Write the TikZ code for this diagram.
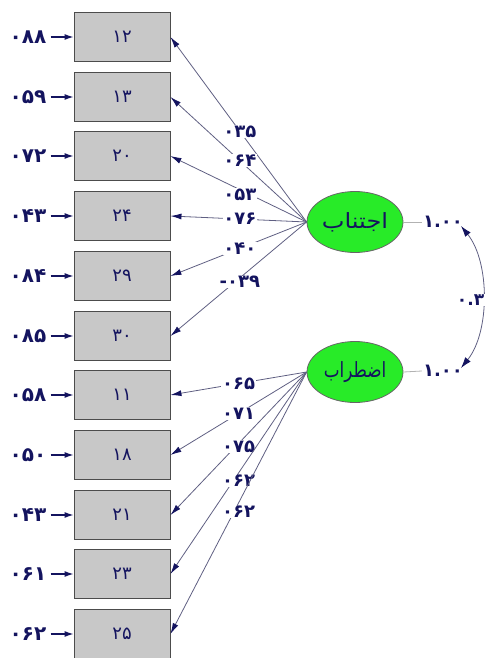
\documentclass[tikz,border=0pt]{standalone}
\usepackage{fontspec}
\usepackage{graphicx}
\newfontfamily\arabicfont[Script=Arabic]{DejaVu Sans}
\newfontfamily\arabicbold[Script=Arabic]{DejaVu Sans Bold}
\TeXXeTstate=1
\usetikzlibrary{arrows.meta,shapes.geometric}
\definecolor{navy}{RGB}{20,20,95}
\definecolor{linegray}{RGB}{95,95,130}
\definecolor{boxgray}{RGB}{200,200,200}
\definecolor{latgreen}{RGB}{40,235,40}
\begin{document}
\begin{tikzpicture}[x=1pt,y=-1pt,
  box/.style={draw=black!70, line width=0.9pt, fill=boxgray, minimum width=96pt, minimum height=49pt, inner sep=0pt, text=navy, font=\arabicfont\fontsize{18}{18}\selectfont},
  lat/.style={ellipse, draw=black!60, line width=0.8pt, fill=latgreen, minimum width=96pt, minimum height=61pt, inner sep=0pt, text=navy, font=\arabicfont\fontsize{21}{21}\selectfont},
  errlbl/.style={text=navy, inner sep=1pt, font=\arabicbold\fontsize{20}{20}\selectfont},
  lbl/.style={fill=white, text=navy, inner sep=0.6pt, font=\arabicbold\fontsize{18}{18}\selectfont},
  load/.style={draw=linegray, line width=0.8pt, arrows={-{Latex[length=11pt,width=6pt,color=navy]}}},
  errarr/.style={draw=navy, line width=1.2pt, -{Latex[length=9pt,width=6pt]}},
  varline/.style={draw=black!30, line width=0.8pt},
  corr/.style={draw=linegray, line width=0.8pt, {Latex[length=11pt,width=7pt,color=navy]}-{Latex[length=11pt,width=7pt,color=navy]}}
]
\useasboundingbox (0,0) rectangle (485,658);
% observed boxes
\node[box] (b1)  at (122,37)  {۱۲};
\node[box] (b2)  at (122,97)  {۱۳};
\node[box] (b3)  at (122,156) {۲۰};
\node[box] (b4)  at (122,216) {۲۴};
\node[box] (b5)  at (122,276) {۲۹};
\node[box] (b6)  at (122,336) {۳۰};
\node[box] (b7)  at (122,395) {۱۱};
\node[box] (b8)  at (122,455) {۱۸};
\node[box] (b9)  at (122,515) {۲۱};
\node[box] (b10) at (122,574) {۲۳};
\node[box] (b11) at (122,634) {۲۵};
% error labels
\node[errlbl] (e1)  at (28,37)  {۰۸۸};
\node[errlbl] (e2)  at (28,97)  {۰۵۹};
\node[errlbl] (e3)  at (28,156) {۰۷۲};
\node[errlbl] (e4)  at (28,216) {۰۴۳};
\node[errlbl] (e5)  at (28,276) {۰۸۴};
\node[errlbl] (e6)  at (28,336) {۰۸۵};
\node[errlbl] (e7)  at (28,395) {۰۵۸};
\node[errlbl] (e8)  at (28,455) {۰۵۰};
\node[errlbl] (e9)  at (28,515) {۰۴۳};
\node[errlbl] (e10) at (28,574) {۰۶۱};
\node[errlbl] (e11) at (28,634) {۰۶۲};
\foreach \i in {1,...,11} {
  \draw[errarr] ([xshift=3pt]e\i.east) -- (b\i.west);
}
% latent variables
\node[lat] (l1) at (355,222) {\scalebox{1.15}[1]{\beginR اجتناب\endR}};
\node[lat] (l2) at (355,372) {\scalebox{0.8}[1]{\beginR اضطراب\endR}};
% loadings
\draw[load] (l1.west) -- node[lbl,pos=0.49] {۰۳۵} (b1.east);
\draw[load] (l1.west) -- node[lbl,pos=0.49] {۰۶۴} (b2.east);
\draw[load] (l1.west) -- node[lbl,pos=0.49,yshift=-5pt] {۰۵۳} (b3.east);
\draw[load] (l1.west) -- node[lbl,pos=0.49] {۰۷۶} (b4.east);
\draw[load] (l1.west) -- node[lbl,pos=0.49] {۰۴۰} (b5.east);
\draw[load] (l1.west) -- node[lbl,pos=0.49,yshift=-4pt] {\hbox{-}\hbox{۰۳۹}} (b6.east);
\draw[load] (l2.west) -- node[lbl,pos=0.50] {۰۶۵} (b7.east);
\draw[load] (l2.west) -- node[lbl,pos=0.50] {۰۷۱} (b8.east);
\draw[load] (l2.west) -- node[lbl,pos=0.50,yshift=-3pt] {۰۷۵} (b9.east);
\draw[load] (l2.west) -- node[lbl,pos=0.50,yshift=-8pt] {۰۶۲} (b10.east);
\draw[load] (l2.west) -- node[lbl,pos=0.50,yshift=-9pt] {۰۶۲} (b11.east);
% variances
\node[errlbl,font=\arabicbold\fontsize{18}{18}\selectfont] (v1) at (443,222) {۱.۰۰};
\node[errlbl,font=\arabicbold\fontsize{18}{18}\selectfont] (v2) at (443,371) {۱.۰۰};
\draw[varline] (l1.east) -- (v1.west);
\draw[varline] (l2.east) -- (v2.west);
% correlation
\coordinate (c1) at (461,226);
\coordinate (c2) at (461,368);
\draw[corr] (c1) .. controls (490,262) and (490,332) .. (c2);
\node[lbl,anchor=east,font=\arabicbold\fontsize{17}{17}\selectfont] (r) at (485,300) {۰.۳};
\end{tikzpicture}
\end{document}
